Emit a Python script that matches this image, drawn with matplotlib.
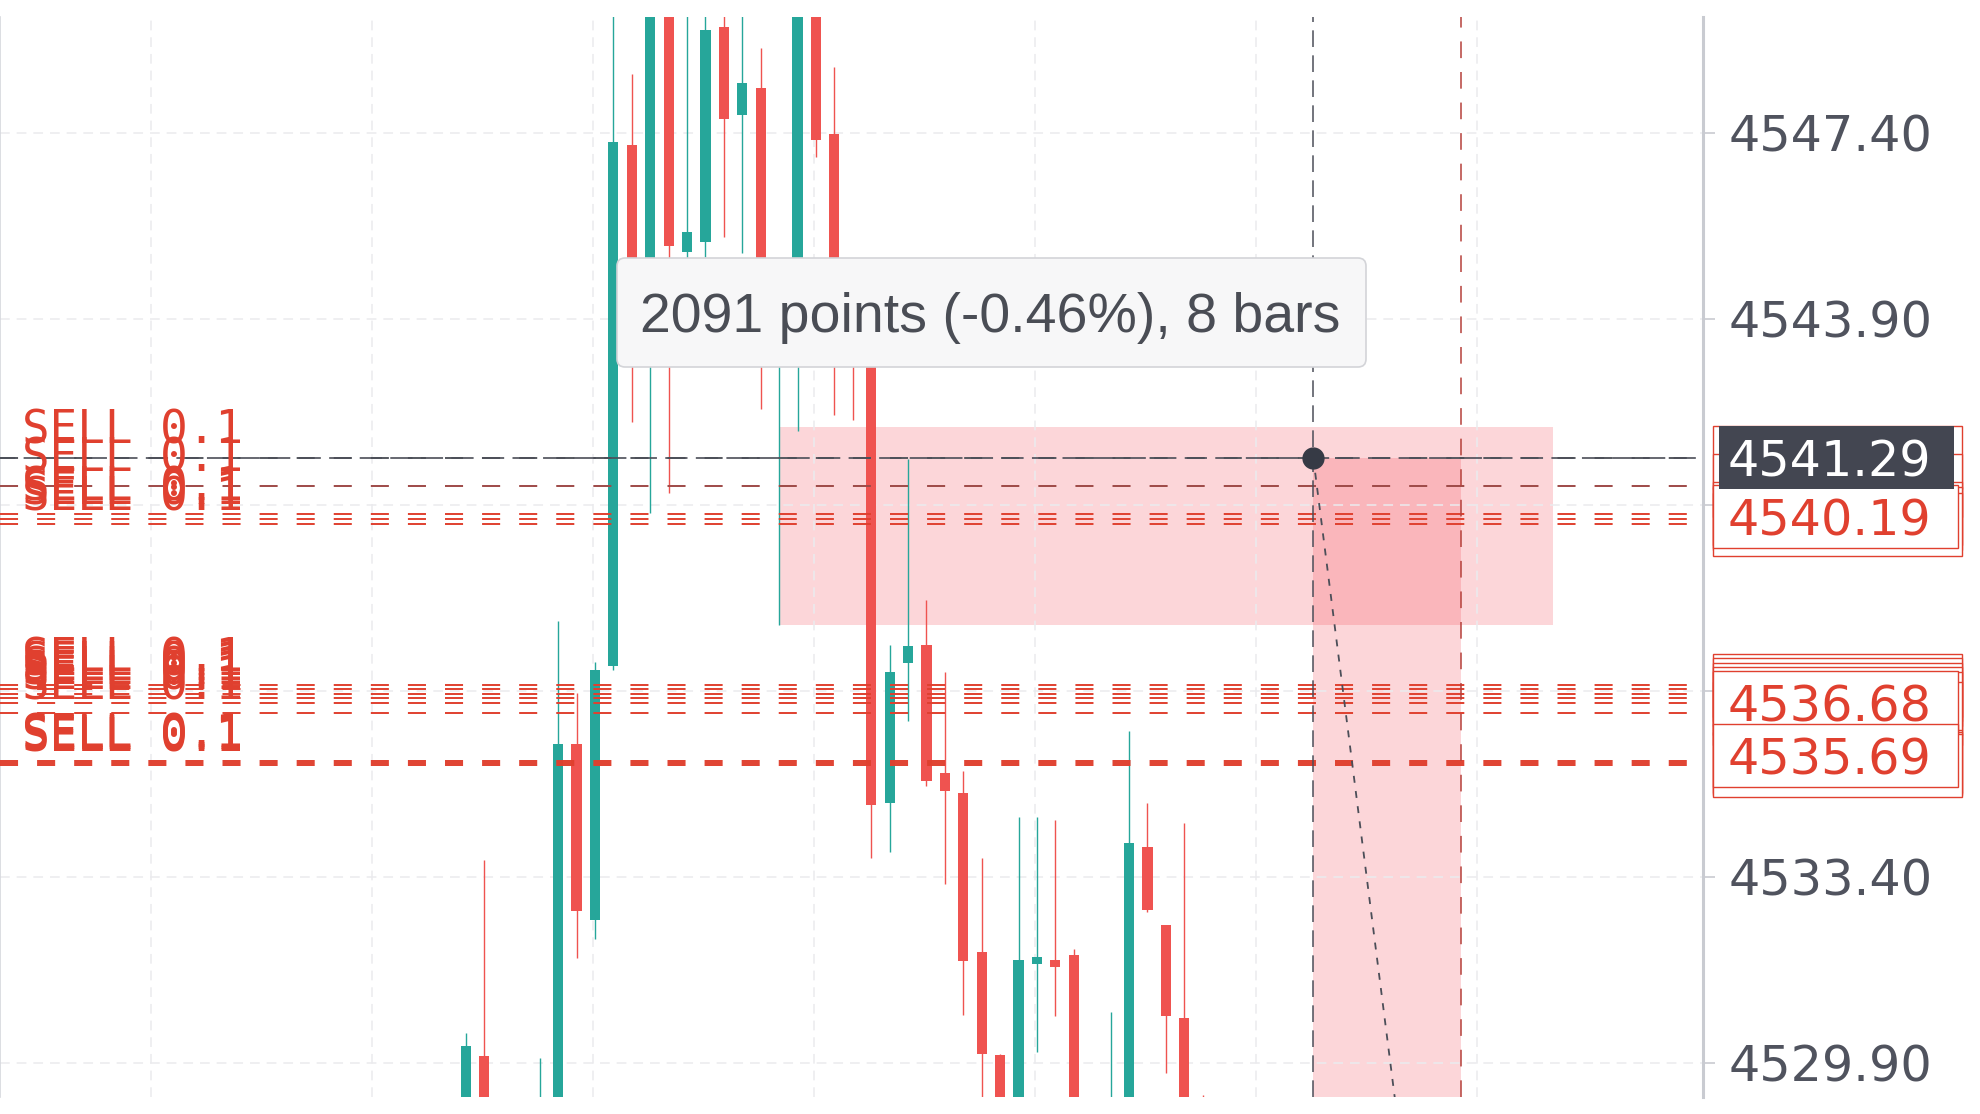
import numpy as np
import matplotlib
matplotlib.use("Agg")
import matplotlib.pyplot as plt
from matplotlib.patches import Rectangle, FancyBboxPatch
from matplotlib.transforms import blended_transform_factory

plt.rcParams["lines.scale_dashes"] = False
plt.rcParams["font.family"] = ["DejaVu Sans"]

# candles, bar 0 = first bar on screen
opens = [4528.90, 4530.03, 4528.70, 4529.00, 4528.60, 4528.90, 4535.90, 4532.59,
         4537.37, 4547.17, 4543.80, 4549.80, 4545.16, 4545.35, 4549.39, 4547.74,
         4548.25, 4543.70, 4543.40, 4549.80, 4547.38, 4543.90, 4543.20, 4534.79,
         4537.43, 4537.77, 4535.36, 4534.98, 4531.99, 4530.05, 4528.80, 4531.76,
         4531.84, 4531.93, 4529.00, 4528.60, 4528.90, 4533.96, 4532.50, 4530.75,
         4529.10]
highs = [4530.46, 4533.72, 4529.10, 4529.15, 4529.99, 4538.22, 4536.86, 4537.44,
         4549.90, 4548.51, 4550.10, 4550.00, 4549.90, 4549.80, 4549.90, 4549.90,
         4549.00, 4544.80, 4550.10, 4550.00, 4548.64, 4544.50, 4543.50, 4537.77,
         4541.27, 4538.61, 4537.26, 4535.39, 4533.76, 4530.07, 4534.53, 4534.53,
         4534.47, 4532.04, 4529.20, 4530.86, 4536.15, 4534.79, 4532.50, 4534.42,
         4529.30]
lows = [4528.70, 4528.60, 4528.50, 4528.30, 4528.40, 4528.70, 4531.88, 4532.23,
        4537.30, 4541.96, 4540.25, 4540.63, 4544.63, 4545.07, 4545.44, 4545.14,
        4542.21, 4538.14, 4541.79, 4546.95, 4542.09, 4542.00, 4533.76, 4533.87,
        4536.34, 4535.11, 4533.27, 4530.80, 4529.00, 4528.30, 4528.60, 4530.11,
        4530.78, 4528.60, 4528.30, 4528.40, 4528.70, 4532.74, 4529.71, 4528.60,
        4528.50]
closes = [4530.22, 4528.80, 4529.00, 4528.60, 4529.10, 4535.90, 4532.76, 4537.29,
          4547.23, 4543.60, 4549.90, 4545.27, 4545.54, 4549.34, 4547.66, 4548.34,
          4543.50, 4544.30, 4549.90, 4547.27, 4543.30, 4543.30, 4534.75, 4537.26,
          4537.75, 4535.21, 4535.02, 4531.82, 4530.07, 4528.50, 4531.84, 4531.89,
          4531.71, 4528.90, 4528.50, 4529.10, 4534.04, 4532.78, 4530.78, 4528.90,
          4528.70]

price_ticks = [4529.90, 4533.40, 4536.90, 4540.40, 4543.90, 4547.40]

# pending sell orders
sell_prices = [4541.29, 4540.76, 4540.23, 4540.14, 4540.04,
               4537.01, 4536.93, 4536.84, 4536.76, 4536.67, 4536.48,
               4535.58, 4535.54, 4535.50]
sell_label = "SELL 0.1"
tag_prices = [4540.19, 4536.68, 4535.69]

# crosshair / measuring tool
cross_bar = 46
cross_price = 4541.29
range_bars = (17, 59)
range_prices = (4538.14, 4541.87)
band_bars = (46, 54)
measure_end = (50.7, 4528.5)
tooltip = "2091 points (-0.46%), 8 bars"

TEAL = "#26a69a"
RED = "#ef5350"
ORDER_RED = "#e0402f"
PINK = (0.949, 0.212, 0.271, 0.2)
DARK = "#434651"
AXIS_TXT = "#50535e"
NUM_SIZE = 35.5

fig = plt.figure(figsize=(19.8, 11.14), dpi=100)
ax = fig.add_axes([0.0, 1 - 1097 / 1114, 1703 / 1980, 1080 / 1114])
ax.set_xlim(-25.3, 67.16)
ax.set_ylim(4529.26, 4549.58)

# grid + right price axis
ax.set_yticks(price_ticks)
ax.set_yticklabels([f"{v:.2f}" for v in price_ticks])
ax.yaxis.tick_right()
ax.set_xticks(np.arange(-17.1, 60, 12))
ax.tick_params(axis="x", length=0, labelbottom=False)
ax.tick_params(axis="y", length=8.6, width=1.2, color="#c9cbd1", pad=10,
               labelsize=NUM_SIZE, labelcolor=AXIS_TXT)
ax.grid(color="#ebebee", linestyle=(0, (7, 5)), linewidth=1.1)
for s in ["top", "bottom"]:
    ax.spines[s].set_visible(False)
ax.spines["right"].set_color("#c9cbd1")
ax.spines["right"].set_linewidth(2.2)
ax.spines["left"].set_color("#d6d8dd")
ax.spines["left"].set_linewidth(1.2)

# measuring boxes
ax.add_patch(Rectangle((range_bars[0], range_prices[0]), range_bars[1] - range_bars[0],
                       range_prices[1] - range_prices[0], fc=PINK, lw=0, zorder=1))
ax.add_patch(Rectangle((band_bars[0], 4520), band_bars[1] - band_bars[0],
                       cross_price - 4520, fc=PINK, lw=0, zorder=1))

# candles
o = np.array(opens)
c = np.array(closes)
idx = np.arange(len(o))
cols = np.where(c >= o, TEAL, RED)
ax.vlines(idx, lows, highs, colors=cols, linewidth=1.0, zorder=3)
ax.bar(idx, np.maximum(np.abs(c - o), 0.04), width=0.55, bottom=np.minimum(o, c),
       color=cols, linewidth=0, zorder=3)

# order lines and labels
trans = blended_transform_factory(ax.transAxes, ax.transData)
for p in sell_prices:
    col = ORDER_RED
    if p == cross_price:
        col = "#55585f"
    elif p > 4540.5:
        col = "#9e4a47"
    ax.axhline(p, color=col, lw=1.4, ls=(0, (13, 13.7)), zorder=4)
    ax.annotate(sell_label, xy=(0.0129, p), xycoords=trans, xytext=(0, 10),
                textcoords="offset points", va="baseline", ha="left",
                color=ORDER_RED, fontsize=33, family="DejaVu Sans Mono", zorder=6)

# price tags on the axis
for p in sell_prices:
    ax.add_patch(Rectangle((1713 / 1703, p - 0.593), 249 / 1703, 1.186, transform=trans,
                           clip_on=False, fc="white", ec=ORDER_RED, lw=1.0, zorder=7))
for p in tag_prices:
    ax.add_patch(Rectangle((1713 / 1703, p - 0.593), 245 / 1703, 1.186, transform=trans,
                           clip_on=False, fc="white", ec=ORDER_RED, lw=1.0, zorder=7))
    ax.text(1728 / 1703, p, f"{p:.2f}", transform=trans, color=ORDER_RED,
            fontsize=NUM_SIZE, va="center_baseline", ha="left", clip_on=False, zorder=8)

# crosshair
ax.axhline(cross_price, color="#4b4e58", lw=1.2, ls=(5, (16, 6)), zorder=4)
ax.axvline(cross_bar, color="#4b4e58", lw=1.1, ls=(0, (12, 6)), zorder=4)
ax.axvline(band_bars[1], color="#b5403a", lw=1.1, ls=(0, (12, 10)), zorder=4)
ax.plot([cross_bar, measure_end[0]], [cross_price, measure_end[1]], color="#4b4e58",
        lw=1.3, ls=(0, (5, 6)), zorder=4)
ax.plot(cross_bar, cross_price, "o", ms=15, color="#363a45", zorder=9)
ax.add_patch(Rectangle((1719 / 1703, cross_price - 0.593), 235 / 1703, 1.186,
                       transform=trans, clip_on=False, fc=DARK, lw=0, zorder=9))
ax.text(1728 / 1703, cross_price, f"{cross_price:.2f}", transform=trans, color="white",
        fontsize=NUM_SIZE, va="center_baseline", ha="left", clip_on=False, zorder=10)

# tooltip
box = FancyBboxPatch((6.17, 7.47), 7.49, 1.09, boxstyle="round,pad=0,rounding_size=0.08",
                     transform=fig.dpi_scale_trans, fc="#f7f7f8", ec="#d3d4d8", lw=1.2,
                     zorder=20)
fig.add_artist(box)
fig.text(6.40, 7.82, tooltip, transform=fig.dpi_scale_trans, fontsize=40,
         family="Liberation Sans", color="#4a4d55", va="baseline", ha="left", zorder=21)

fig.savefig("out.png", dpi=100)
